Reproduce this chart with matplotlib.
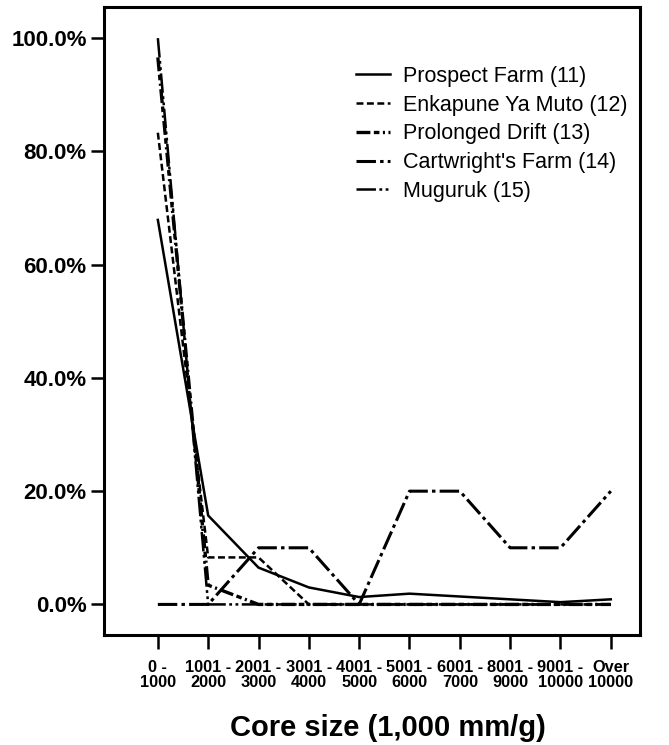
import numpy as np
import matplotlib.pyplot as plt

plt.rcParams['font.family'] = ['Liberation Sans', 'DejaVu Sans']
plt.rcParams['lines.scale_dashes'] = False

# core size classes
categories = ["0 -\n1000", "1001 -\n2000", "2001 -\n3000", "3001 -\n4000",
              "4001 -\n5000", "5001 -\n6000", "6001 -\n7000", "8001 -\n9000",
              "9001 -\n10000", "Over\n10000"]

# percentages per site
prospect_farm = [67.9, 15.7, 6.5, 3.0, 1.3, 1.9, 1.4, 0.9, 0.4, 0.9]
enkapune = [83.3, 8.3, 8.3, 0, 0, 0, 0, 0, 0, 0]
prolonged_drift = [96.6, 3.4, 0, 0, 0, 0, 0, 0, 0, 0]
cartwright = [0, 0, 10, 10, 0, 20, 20, 10, 10, 20]
muguruk = [100, 0, 0, 0, 0, 0, 0, 0, 0, 0]

x = np.arange(len(categories))

fig = plt.figure(figsize=(6.69, 7.45), dpi=100)
ax = fig.add_axes([104/669, 1-635/745, 536/669, 628/745])

ax.plot(x, prospect_farm, color='k', lw=1.8, ls='-', label="Prospect Farm (11)")
ax.plot(x, enkapune, color='k', lw=1.8, ls=(0, (5, 2.5)), label="Enkapune Ya Muto (12)")
ax.plot(x, prolonged_drift, color='k', lw=2.4, ls=(0, (10, 2.5, 4, 2.5, 1.5, 2.5)),
        label="Prolonged Drift (13)")
ax.plot(x, cartwright, color='k', lw=2.2, ls=(0, (14, 3, 2.5, 3)),
        label="Cartwright's Farm (14)")
ax.plot(x, muguruk, color='k', lw=1.8, ls=(0, (14, 2.5, 2, 2.5, 2, 2.5)),
        label="Muguruk (15)")

ax.set_xlim(-1.07, 9.58)
ax.set_ylim(-5.4, 105.5)

ax.set_yticks([0, 20, 40, 60, 80, 100])
ax.set_yticklabels([f"{v:.1f}%" for v in [0, 20, 40, 60, 80, 100]],
                   fontsize=16, fontweight='bold')
ax.set_xticks(x)
ax.set_xticklabels(categories, fontsize=11.8, fontweight='bold', linespacing=1.0)
ax.tick_params(axis='y', direction='out', length=9.5, width=1.8, pad=3)
ax.tick_params(axis='x', direction='out', length=10, width=1.8, pad=8)

for s in ax.spines.values():
    s.set_linewidth(2.2)

ax.set_xlabel("Core size (1,000 mm/g)", fontsize=21, fontweight='bold')
ax.xaxis.set_label_coords(0.53, -0.125)

ax.legend(loc='upper left', bbox_to_anchor=(356/669, 1-66/745),
          bbox_transform=fig.transFigure, frameon=False, fontsize=15.5,
          handlelength=1.6, handletextpad=0.6, labelspacing=0.36,
          borderpad=0, borderaxespad=0)

fig.savefig("out.png", dpi=100)
